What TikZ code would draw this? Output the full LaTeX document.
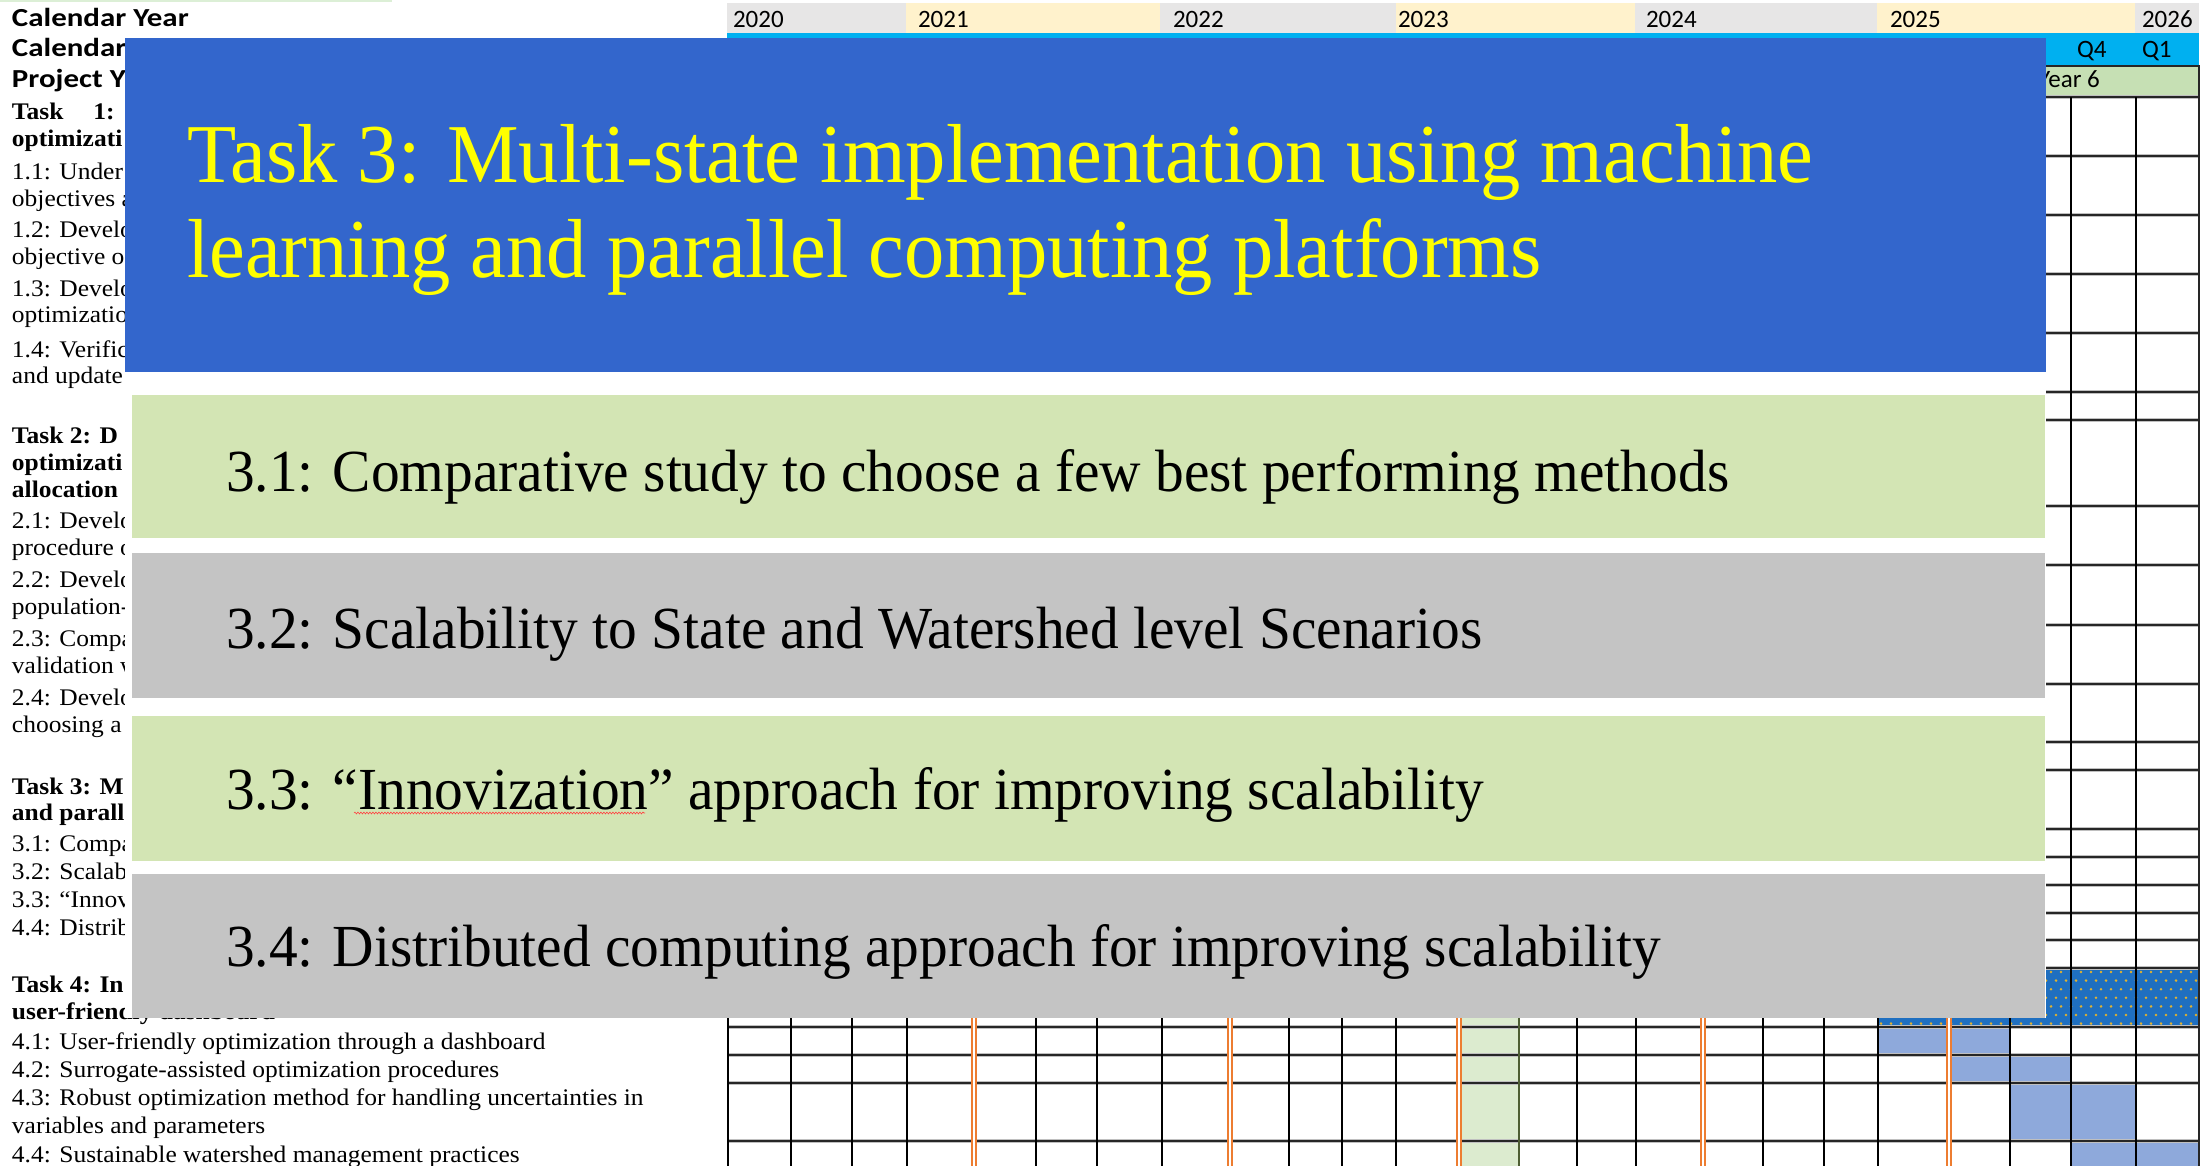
\documentclass[tikz,border=0pt]{standalone}
\usepackage{fontspec}
\setmainfont{Liberation Serif}
\newfontfamily\calibri{Carlito}
\usetikzlibrary{decorations.pathmorphing}

\definecolor{slideblue}{HTML}{3366CC}
\definecolor{titleyellow}{HTML}{FFFF00}
\definecolor{boxgreen}{HTML}{D3E5B4}
\definecolor{boxgray}{HTML}{C4C4C4}
\definecolor{yeargray}{HTML}{E7E6E6}
\definecolor{yearyellow}{HTML}{FFF2CC}
\definecolor{qcyan}{HTML}{00B0F0}
\definecolor{pygreen}{HTML}{C6E0B4}
\definecolor{nowgreen}{HTML}{DCEBCF}
\definecolor{nowedge}{HTML}{4E5E33}
\definecolor{gridorange}{HTML}{ED7D31}
\definecolor{barblue}{HTML}{8EA9DB}
\definecolor{dotblue}{HTML}{1F6FC0}
\definecolor{dotgold}{HTML}{E2B22E}
\definecolor{topline}{HTML}{DCEFD6}

% spreadsheet text is drawn slightly wider than the font's natural shape
\newcommand{\xlwide}[1]{\scalebox{1.07}[1]{#1}}
\newcommand{\xlhead}[1]{\scalebox{1.19}[1]{#1}}
% slide text is drawn a little taller than its natural shape
\newcommand{\tall}[1]{\scalebox{1}[1.04]{#1}}

\begin{document}
\begin{tikzpicture}[x=1pt,y=-1pt,
  cell/.style={inner sep=0pt, outer sep=0pt, anchor=base west},
  xl/.style={cell, font=\fontsize{23.8}{27}\selectfont},
  xlb/.style={cell, font=\fontsize{23.8}{27}\selectfont\bfseries},
  hdr/.style={cell, font=\calibri\bfseries\fontsize{26}{30}\selectfont},
  yr/.style={cell, font=\calibri\fontsize{25}{30}\selectfont},
  hline/.style={draw=black!85, line width=1.7pt},
  hhalo/.style={draw=black!25, line width=4pt},
  vline/.style={draw=black, line width=1.8pt},
  oline/.style={draw=gridorange, line width=1.1pt},
  titletext/.style={cell, text=titleyellow, font=\fontsize{80.5}{95}\selectfont},
  subtext/.style={cell, text=black, font=\fontsize{57.4}{68}\selectfont},
]
\useasboundingbox (0,0) rectangle (2209,1166);
\fill[white] (0,0) rectangle (2209,1166);
\fill[topline] (0,0) rectangle (392,2);

% ---------- header rows of the schedule ----------
\fill[yeargray]   (727,3) rectangle (906,33);
\fill[yearyellow] (906,3) rectangle (1160,33);
\fill[yeargray]   (1160,3) rectangle (1396,33);
\fill[yearyellow] (1396,3) rectangle (1635,33);
\fill[yeargray]   (1635,3) rectangle (1877,33);
\fill[yearyellow] (1877,3) rectangle (2135,33);
\fill[yeargray]   (2135,3) rectangle (2199,33);
\fill[qcyan] (727,33) rectangle (2199,66);
\fill[pygreen] (727,66) rectangle (2199,97);
\draw[black!85, line width=1.5pt] (727,66) -- (2199,66) -- (2199,97);

\node[yr] (y2020) at (733,28) {2020};
\node[yr] (y2021) at (918,28) {2021};
\node[yr] (y2022) at (1173,28) {2022};
\node[yr] (y2023) at (1398,28) {2023};
\node[yr] (y2024) at (1646,28) {2024};
\node[yr] (y2025) at (1890,28) {2025};
\node[yr] (y2026) at (2142,28) {2026};
\node[yr] (q4) at (2077,58) {Q4};
\node[yr] (q1) at (2142,58) {Q1};
\node[yr] (py6) at (2038,88) {Year 6};

% ---------- shaded cells ----------
\fill[nowgreen] (1461,97) rectangle (1519,1166);
\fill[dotblue] (1878,968) rectangle (2199,1027);
\begin{scope}
  \clip (1878,968) rectangle (2199,1027);
  \foreach \r in {0,...,6}{
    \foreach \c in {0,...,32}{
      \fill[dotgold] ({1881+10*\c+5*mod(\r,2)},{972+8.6*\r}) circle (1.4);
    }
  }
\end{scope}
\fill[barblue] (1878,1027) rectangle (2010,1055);
\fill[barblue] (1949,1055) rectangle (2071,1083);
\fill[barblue] (2010,1083) rectangle (2136,1141);
\fill[barblue] (2071,1141) rectangle (2199,1166);

% ---------- grid ----------
\foreach \y in {97,156,215,274,333,392,420,506,565,625,684,742,770,829,857,885,913,940,968,1027,1055,1083,1141}{
  \draw[hhalo] (728,\y) -- (2199,\y);
}
\foreach \y in {97,156,215,274,333,392,420,506,565,625,684,742,770,829,857,885,913,940,968,1027,1055,1083,1141}{
  \draw[hline] (728,\y) -- (2199,\y);
}
\foreach \x in {728,791,852,907,1036,1097,1162,1289,1342,1396,1577,1636,1763,1824,1878,2010,2071,2136,2199}{
  \draw[vline] (\x,97) -- (\x,1166);
}
\draw[draw=nowedge, line width=1.8pt] (1519,97) -- (1519,1166);
\foreach \x in {974,1230,1459,1703,1949}{
  \fill[white] ({\x-3},97) rectangle ({\x+3},1166);
  \draw[oline] ({\x-2},97) -- ({\x-2},1166);
  \draw[oline] ({\x+2},97) -- ({\x+2},1166);
}
\draw[black!85, line width=1.5pt] (2199,66) -- (2199,1166);

% ---------- task column ----------
\node[hdr] (lcy) at (12,27) {\xlhead{Calendar Year}};
\node[hdr] (lcq) at (12,57) {\xlhead{Calendar}};
\node[hdr] (lpy) at (12,88) {\xlhead{Project Y}};

\node[xlb] (t1a) at (12,120) {\xlwide{Task\hspace{28pt}1:}};
\node[xlb] (t1b) at (12,147) {\xlwide{optimizati}};
\node[xl] (s11a) at (12,180) {\xlwide{1.1: Under}};
\node[xl] (s11b) at (12,207) {\xlwide{objectives a}};
\node[xl] (s12a) at (12,238) {\xlwide{1.2: Develo}};
\node[xl] (s12b) at (12,265) {\xlwide{objective o}};
\node[xl] (s13a) at (12,297) {\xlwide{1.3: Develo}};
\node[xl] (s13b) at (12,323) {\xlwide{optimizatio}};
\node[xl] (s14a) at (12,357) {\xlwide{1.4: Verific}};
\node[xl] (s14b) at (12,383) {\xlwide{and update}};

\node[xlb] (t2a) at (12,443) {\xlwide{Task 2: D}};
\node[xlb] (t2b) at (12,470) {\xlwide{optimizati}};
\node[xlb] (t2c) at (12,497) {\xlwide{allocation}};
\node[xl] (s21a) at (12,528) {\xlwide{2.1: Develo}};
\node[xl] (s21b) at (12,555) {\xlwide{procedure o}};
\node[xl] (s22a) at (12,587) {\xlwide{2.2: Develo}};
\node[xl] (s22b) at (12,614) {\xlwide{population-}};
\node[xl] (s23a) at (12,646) {\xlwide{2.3: Compa}};
\node[xl] (s23b) at (12,673) {\xlwide{validation w}};
\node[xl] (s24a) at (12,705) {\xlwide{2.4: Develo}};
\node[xl] (s24b) at (12,732) {\xlwide{choosing a}};

\node[xlb] (t3a) at (12,794) {\xlwide{Task 3: M}};
\node[xlb] (t3b) at (12,820) {\xlwide{and parall}};
\node[xl] (s31) at (12,851) {\xlwide{3.1: Compa}};
\node[xl] (s32) at (12,879) {\xlwide{3.2: Scalab}};
\node[xl] (s33) at (12,907) {\xlwide{3.3: “Innov}};
\node[xl] (s34) at (12,935) {\xlwide{4.4: Distrib}};

\node[xlb] (t4a) at (12,992) {\xlwide{Task 4: In}};
\node[xlb] (t4b) at (12,1019) {\xlwide{user-friendly dashboard}};
\node[xl] (s41) at (12,1049) {\xlwide{4.1: User-friendly optimization through a dashboard}};
\node[xl] (s42) at (12,1077) {\xlwide{4.2: Surrogate-assisted optimization procedures}};
\node[xl] (s43a) at (12,1105) {\xlwide{4.3: Robust optimization method for handling uncertainties in}};
\node[xl] (s43b) at (12,1133) {\xlwide{variables and parameters}};
\node[xl] (s44) at (12,1162) {\xlwide{4.4: Sustainable watershed management practices}};

% ---------- slide laid over the schedule ----------
\fill[white] (125,38) rectangle (2046,1018);
\fill[slideblue] (125,38) rectangle (2046,372);
\fill[boxgreen] (132,395) rectangle (2045,538);
\fill[boxgray]  (132,553) rectangle (2045,698);
\fill[boxgreen] (132,716) rectangle (2045,861);
\fill[boxgray]  (132,874) rectangle (2045,1018);

\node[titletext] (title1) at (187,183) {\tall{Task 3: Multi-state implementation using machine}};
\node[titletext] (title2) at (187,278) {\tall{learning and parallel computing platforms}};

\node[subtext] (sub1) at (226,491) {\tall{3.1: Comparative study to choose a few best performing methods}};
\node[subtext] (sub2) at (226,648) {\tall{3.2: Scalability to State and Watershed level Scenarios}};
\node[subtext] (sub3) at (226,809) {\tall{3.3: “Innovization” approach for improving scalability}};
\node[subtext] (sub4) at (226,966) {\tall{3.4: Distributed computing approach for improving scalability}};

% spell-check squiggle under the coined word
\draw[red!75, line width=0.6pt, decorate,
      decoration={snake, amplitude=0.9pt, segment length=3pt}]
  (354,813) -- (645,813);
\end{tikzpicture}
\end{document}
